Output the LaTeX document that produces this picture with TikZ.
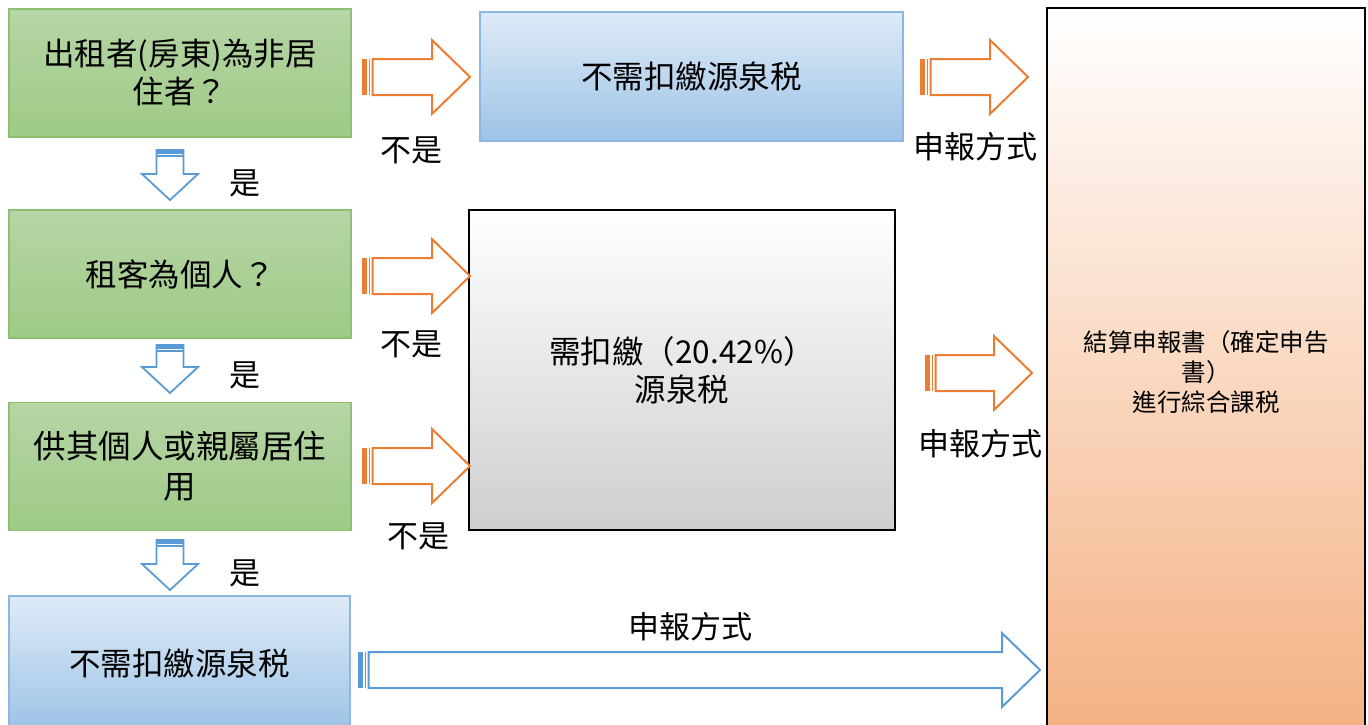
\documentclass[tikz,border=0pt]{standalone}
\usepackage{fontspec}
\setmainfont{Noto Sans CJK TC}
\definecolor{gtop}{HTML}{B6D6A6}
\definecolor{gbot}{HTML}{9FCA86}
\definecolor{gline}{HTML}{8EC073}
\definecolor{btop}{HTML}{DEEBF7}
\definecolor{bbot}{HTML}{9DC3E6}
\definecolor{bline}{HTML}{8FB6E0}
\definecolor{otop}{HTML}{FFFFFF}
\definecolor{obot}{HTML}{F4B183}
\definecolor{arrO}{HTML}{ED7D31}
\definecolor{arrB}{HTML}{5B9BD5}
\newcommand\StripeRight[4]{%
  \fill[#4] (#1,#3-18) rectangle (#1+4.5,#3+18);
  \draw[#4, line width=1.6pt] (#1+7.5,#3-18) -- (#1+7.5,#3+18);
  \draw[#4, line width=2pt, fill=white, line join=miter]
    (#1+10.5,#3-18) -- (#2-38,#3-18) -- (#2-38,#3-37) -- (#2,#3)
    -- (#2-38,#3+37) -- (#2-38,#3+18) -- (#1+10.5,#3+18) -- cycle;}
\newcommand\StripeDown[3]{%
  \draw[arrB, line width=1.8pt, fill=white, line join=miter]
    (#1-13.5,#2) -- (#1-13.5,#3-26) -- (#1-28,#3-26) -- (#1,#3)
    -- (#1+28,#3-26) -- (#1+13.5,#3-26) -- (#1+13.5,#2) -- cycle;
  \fill[arrB] (#1-13.5,#2) rectangle (#1+13.5,#2+3.5);
  \draw[arrB, line width=1.2pt] (#1-13.5,#2+6) -- (#1+13.5,#2+6);}
\begin{document}
\begin{tikzpicture}[x=1pt,y=-1pt,
  txt/.style={font=\fontsize{31.5}{38}\selectfont, align=center, text=black},
  gbox/.style={txt, draw=gline, line width=1.5pt, top color=gtop, bottom color=gbot,
    minimum width=342pt, minimum height=128pt, inner sep=0pt},
  bbox/.style={txt, draw=bline, line width=1.5pt, top color=btop, bottom color=bbot,
    inner sep=0pt},
  lab/.style={font=\fontsize{31}{36}\selectfont, text=black, inner sep=0pt}]
\useasboundingbox (0,0) rectangle (1368,724);
\clip (0,0) rectangle (1368,724);
\fill[white] (0,0) rectangle (1368,724);
% left column
\node[gbox] (q1) at (180,73) {出租者(房東)為非居\\住者？};
\node[gbox] (q2) at (180,274) {租客為個人？};
\node[gbox, font=\fontsize{32.5}{40}\selectfont] (q3) at (180,466.5) {供其個人或親屬居住\\用};
\node[bbox, minimum width=341pt, minimum height=134pt] (nb) at (179.5,663) {不需扣繳源泉税};
% middle column
\node[bbox, minimum width=423pt, minimum height=129pt] (nt) at (691.5,76.5) {不需扣繳源泉税};
\node[txt, draw=black, line width=2pt, top color=white, middle color=white!98.5!black,
  bottom color=white!81!black, minimum width=426pt, minimum height=320pt, inner sep=0pt]
  (wh) at (682,370) {需扣繳（20.42\%）\\源泉税};
% right column
\node[draw=black, line width=2pt, top color=otop, bottom color=obot,
  minimum width=318pt, minimum height=728pt, inner sep=0pt, align=center,
  font=\fontsize{24.5}{30}\selectfont]
  (fin) at (1206,372) {結算申報書（確定申告\\書）\\進行綜合課税};
% arrows
\StripeRight{362}{470}{77}{arrO}
\StripeRight{362}{470}{276}{arrO}
\StripeRight{362}{470}{466}{arrO}
\StripeRight{920}{1028}{77}{arrO}
\StripeRight{925}{1032}{373}{arrO}
\StripeRight{358}{1040}{670}{arrB}
\StripeDown{170}{150}{200}
\StripeDown{170}{345}{393}
\StripeDown{170}{540}{590}
% labels
\node[lab] (l1) at (411,150) {不是};
\node[lab] (l2) at (411,344) {不是};
\node[lab] (l3) at (418,536) {不是};
\node[lab] (y1) at (245,183) {是};
\node[lab] (y2) at (245,375) {是};
\node[lab] (y3) at (245,573) {是};
\node[lab] (m1) at (975,147) {申報方式};
\node[lab] (m2) at (980,444) {申報方式};
\node[lab] (m3) at (690,627) {申報方式};
\end{tikzpicture}
\end{document}
